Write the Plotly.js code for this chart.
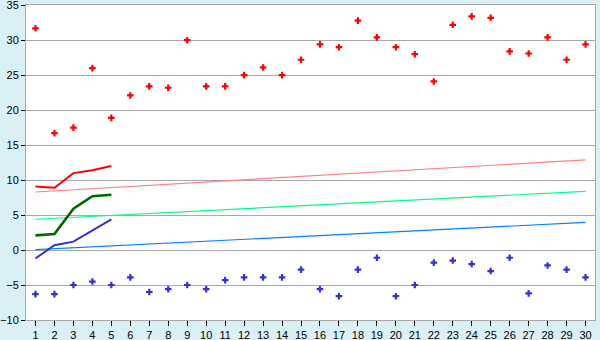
<!DOCTYPE html>
<html><head><meta charset="utf-8">
<script src="https://cdn.plot.ly/plotly-3.0.1.min.js"></script>
<style>html,body{margin:0;padding:0;background:#daf0f5;}</style>
</head><body>
<div id="chart" style="width:600px;height:340px;"></div>
<script>
const days = [1,2,3,4,5,6,7,8,9,10,11,12,13,14,15,16,17,18,19,20,21,22,23,24,25,26,27,28,29,30];
const yTicks = [-10,-5,0,5,10,15,20,25,30,35];
const maxVals = [31.7,16.7,17.5,26.0,18.9,22.1,23.4,23.2,30.0,23.4,23.4,25.0,26.1,25.0,27.2,29.4,29.0,32.8,30.4,29.0,28.0,24.1,32.2,33.4,33.2,28.4,28.1,30.4,27.2,29.4];
const minVals = [-6.3,-6.3,-5.0,-4.5,-5.0,-3.9,-6.0,-5.6,-5.0,-5.6,-4.3,-3.9,-3.9,-3.9,-2.8,-5.6,-6.6,-2.8,-1.1,-6.6,-5.0,-1.8,-1.5,-2.0,-3.0,-1.1,-6.2,-2.2,-2.8,-3.9];
const avgDays = [1,2,3,4,5];
const redLine = [9.1,8.9,11.0,11.4,12.0];
const greenLine = [2.1,2.3,5.9,7.7,7.9];
const blueLine = [-1.2,0.7,1.2,2.8,4.4];
const trendDays = [1,30];
const trendRed = [8.3,12.9];
const trendGreen = [4.4,8.4];
const trendBlue = [0.05,3.95];

const traces = [
  {x:trendDays,y:trendRed,mode:'lines',line:{color:'#ff8080',width:1.2}},
  {x:trendDays,y:trendGreen,mode:'lines',line:{color:'#00ff80',width:1.2}},
  {x:trendDays,y:trendBlue,mode:'lines',line:{color:'#0080ff',width:1.2}},
  {x:avgDays,y:redLine,mode:'lines',line:{color:'#ff0000',width:2}},
  {x:avgDays,y:greenLine,mode:'lines',line:{color:'#006600',width:2.6}},
  {x:avgDays,y:blueLine,mode:'lines',line:{color:'#3333cc',width:2}},
  {x:days,y:maxVals,mode:'markers',marker:{symbol:'cross',size:5.5,color:'#ff0000'}},
  {x:days,y:minVals,mode:'markers',marker:{symbol:'cross',size:5.5,color:'#3333cc'}},
  {x:days,y:minVals,xaxis:'x2',mode:'markers',marker:{opacity:0},hoverinfo:'skip'}
];
const layout = {
  width:600,height:340,
  paper_bgcolor:'#daf0f5',plot_bgcolor:'#ffffff',
  margin:{l:26,r:5,t:5,b:20},
  showlegend:false,
  font:{family:'Arial, Liberation Sans, sans-serif',size:11,color:'#000000'},
  xaxis:{range:[0.5,30.5],tickvals:days,ticks:'outside',ticklen:5,tickcolor:'#000000',tickwidth:1,
         showticklabels:false,
         showgrid:false,zeroline:false,showline:true,linecolor:'#a8a8a8',linewidth:1,mirror:true},
  xaxis2:{overlaying:'x',matches:'x',range:[0.5,30.5],tickvals:days,ticks:'',side:'bottom',
          ticklabelstandoff:7,showgrid:false,zeroline:false,showline:false,
          tickfont:{size:11,color:'#000000'}},
  yaxis:{range:[-10,35.03],tickvals:yTicks,ticks:'outside',ticklen:4,tickcolor:'#000000',
         showgrid:true,gridcolor:'#a8a8a8',gridwidth:1,
         zeroline:false,showline:true,linecolor:'#a8a8a8',linewidth:1,mirror:true,
         ticklabeloverflow:'allow',tickfont:{size:11}}
};
Plotly.newPlot('chart',traces,layout,{displayModeBar:false,staticPlot:true});
</script>
</body></html>
